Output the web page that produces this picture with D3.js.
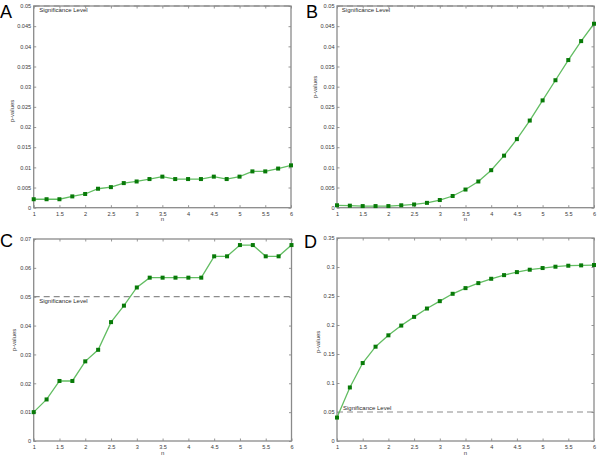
<!DOCTYPE html>
<html>
<head>
<meta charset="utf-8">
<script src="https://cdn.jsdelivr.net/npm/d3@7"></script>
<style>
html,body{margin:0;padding:0;background:#fff;}
svg{display:block;font-family:"Liberation Sans",Arial,sans-serif;}
</style>
</head>
<body>
<svg id="chart" width="600" height="458"></svg>
<script>
// ---- data ----
const nValues = [1,1.25,1.5,1.75,2,2.25,2.5,2.75,3,3.25,3.5,3.75,4,4.25,4.5,4.75,5,5.25,5.5,5.75,6];
const pA = [0.0021,0.0021,0.0021,0.0028,0.0034,0.0047,0.0051,0.0061,0.0065,0.0071,0.0077,0.0071,0.0071,0.0071,0.0077,0.0071,0.0077,0.0090,0.0090,0.0097,0.0105];
const pB = [0.0006,0.0005,0.0004,0.0004,0.0004,0.0006,0.0008,0.0012,0.0019,0.0029,0.0045,0.0065,0.0093,0.0129,0.0170,0.0216,0.0266,0.0316,0.0366,0.0413,0.0456];
const pC = [0.0100,0.0144,0.0208,0.0208,0.0276,0.0316,0.0412,0.0469,0.0532,0.0566,0.0566,0.0566,0.0566,0.0566,0.0640,0.0640,0.0679,0.0679,0.0640,0.0640,0.0679];
const pD = [0.0404,0.0923,0.1344,0.1626,0.1822,0.1990,0.2140,0.2284,0.2411,0.2538,0.2636,0.2722,0.2797,0.2860,0.2912,0.2953,0.2982,0.3005,0.3022,0.3028,0.3034];
const xTicks = [1,1.5,2,2.5,3,3.5,4,4.5,5,5.5,6];
const yTicksAB = [0,0.005,0.01,0.015,0.02,0.025,0.03,0.035,0.04,0.045,0.05];
const yTicksC = [0,0.01,0.02,0.03,0.04,0.05,0.06,0.07];
const yTicksD = [0,0.05,0.1,0.15,0.2,0.25,0.3,0.35];
const significance = 0.05;
const panelLetters = ["A","B","C","D"];
const xLabel = "n";
const yLabel = "p-values";
const sigLabel = "Significance Level";

// ---- layout ----
const panels = [
  {letter:"A", data:pA, ticks:yTicksAB, yMax:0.05, box:{l:33.7,r:291,t:6,b:207.7}, letterPos:[0,18], yLabPos:[14,111], sigPos:"below", sigDx:5.5},
  {letter:"B", data:pB, ticks:yTicksAB, yMax:0.05, box:{l:337,r:594,t:6,b:207.7}, letterPos:[306,18], yLabPos:[317,87], sigPos:"below", sigDx:4.8},
  {letter:"C", data:pC, ticks:yTicksC, yMax:0.07, box:{l:33.7,r:291.5,t:239,b:441}, letterPos:[0,247], yLabPos:[15.5,340], sigPos:"below", sigDx:5.5},
  {letter:"D", data:pD, ticks:yTicksD, yMax:0.35, box:{l:337,r:594,t:238,b:441}, letterPos:[304,248], yLabPos:[320,342], sigPos:"above", sigDx:6}
];

const svg = d3.select("#chart");
svg.append("rect").attr("width",600).attr("height",458).attr("fill","#fff");

const axisColor = "#8a8a8a";
const textColor = "#3a3a3a";
const tickLen = 2.5;
const fs = 5.6;

panels.forEach(p => {
  const b = p.box;
  const x = d3.scaleLinear().domain([1,6]).range([b.l,b.r]);
  const y = d3.scaleLinear().domain([0,p.yMax]).range([b.b,b.t]);
  const g = svg.append("g");

  // significance dashed line
  g.append("line")
    .attr("x1",x(1)).attr("x2",x(6))
    .attr("y1",y(significance)).attr("y2",y(significance))
    .attr("stroke","#8c8c8c").attr("stroke-width",1.2)
    .attr("stroke-dasharray","6,4");

  // axes with inward ticks on all sides
  const fmt = d => String(d);
  g.append("g").attr("transform",`translate(0,${b.b})`)
    .call(d3.axisBottom(x).tickValues(xTicks).tickSize(-tickLen).tickPadding(4.5).tickFormat(fmt));
  g.append("g").attr("transform",`translate(0,${b.t})`)
    .call(d3.axisTop(x).tickValues(xTicks).tickSize(-tickLen).tickFormat(""));
  g.append("g").attr("transform",`translate(${b.l},0)`)
    .call(d3.axisLeft(y).tickValues(p.ticks).tickSize(-tickLen).tickPadding(2.5).tickFormat(fmt));
  g.append("g").attr("transform",`translate(${b.r},0)`)
    .call(d3.axisRight(y).tickValues(p.ticks).tickSize(-tickLen).tickFormat(""));

  g.selectAll(".domain").remove();
  g.selectAll(".tick line").attr("stroke",axisColor).attr("stroke-width",0.9);
  g.selectAll(".tick text").attr("fill",textColor).style("font-size",fs+"px")
    .style("font-family","'Liberation Sans',Arial,sans-serif");

  // box
  g.append("rect").attr("x",b.l).attr("y",b.t).attr("width",b.r-b.l).attr("height",b.b-b.t)
    .attr("fill","none").attr("stroke",axisColor).attr("stroke-width",1.3);

  // significance label
  const sy = y(significance);
  g.append("text").attr("x",b.l+p.sigDx)
    .attr("y", p.sigPos==="below" ? sy+6.3 : sy-2.4)
    .attr("fill","#2a2a2a").style("font-size","6px").text(sigLabel);

  // line and markers
  const pts = nValues.map((n,i)=>[n,p.data[i]]);
  g.append("path").datum(pts)
    .attr("d", d3.line().x(d=>x(d[0])).y(d=>y(d[1])))
    .attr("fill","none").attr("stroke","#62bd62").attr("stroke-width",1.3);
  const ms = 4;
  g.selectAll("rect.m").data(pts).enter().append("rect").attr("class","m")
    .attr("x",d=>x(d[0])-ms/2).attr("y",d=>y(d[1])-ms/2)
    .attr("width",ms).attr("height",ms).attr("fill","#087a08");

  // axis titles
  g.append("text").attr("x",(b.l+b.r)/2).attr("y",b.b+13.5)
    .attr("text-anchor","middle").attr("fill",textColor).style("font-size","6px").text(xLabel);
  g.append("text").attr("transform",`translate(${p.yLabPos[0]},${p.yLabPos[1]}) rotate(-90)`)
    .attr("text-anchor","middle").attr("fill",textColor).style("font-size","6px").text(yLabel);

  // panel letter
  svg.append("text").attr("x",p.letterPos[0]).attr("y",p.letterPos[1])
    .attr("fill","#000").style("font-size","18px").text(p.letter);
});
</script>
</body>
</html>
